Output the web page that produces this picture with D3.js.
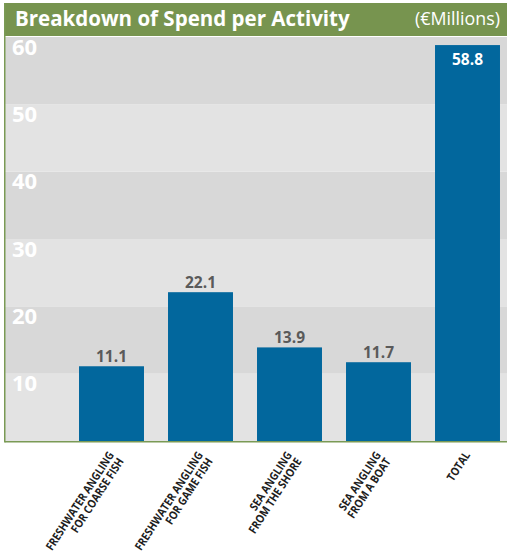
<!DOCTYPE html>
<html>
<head>
<meta charset="utf-8">
<script src="https://cdn.jsdelivr.net/npm/d3@7"></script>
<style>
  html, body { margin: 0; padding: 0; background: #ffffff; }
  svg { display: block; font-family: "Open Sans", "Noto Sans", sans-serif; }
</style>
</head>
<body>
<svg id="chart" width="507" height="555"></svg>
<script>
const title = "Breakdown of Spend per Activity";
const unitLabel = "(€Millions)";
const categories = [
  ["FRESHWATER ANGLING", "FOR COARSE FISH"],
  ["FRESHWATER ANGLING", "FOR GAME FISH"],
  ["SEA ANGLING", "FROM THE SHORE"],
  ["SEA ANGLING", "FROM A BOAT"],
  ["TOTAL"]
];
const values = [11.1, 22.1, 13.9, 11.7, 58.8];
const valueLabels = ["11.1", "22.1", "13.9", "11.7", "58.8"];
const tickValues = [10, 20, 30, 40, 50, 60];

const svg = d3.select("#chart");
const W = 507;
const plotLeft = 5, plotBottom = 441, plotTop = 37;

const x = d3.scaleBand()
  .domain(d3.range(values.length))
  .range([67, 512])
  .paddingInner(0.27)
  .paddingOuter(0.135);

const y = d3.scaleLinear().domain([0, 60]).range([plotBottom, plotTop]);

// alternating bands
const bandEdges = [0].concat(tickValues);
svg.append("g").selectAll("rect")
  .data(d3.range(bandEdges.length - 1))
  .join("rect")
  .attr("x", plotLeft)
  .attr("width", W - plotLeft)
  .attr("y", i => y(bandEdges[i + 1]))
  .attr("height", i => y(bandEdges[i]) - y(bandEdges[i + 1]))
  .attr("fill", i => i % 2 === 0 ? "#e3e3e3" : "#d8d8d8");

// tick labels (white, inside bands)
svg.append("g").selectAll("text")
  .data(tickValues)
  .join("text")
  .attr("x", 12)
  .attr("y", d => y(d) + 17.5)
  .attr("fill", "#ffffff")
  .attr("font-weight", 700)
  .attr("font-size", 22)
  .text(d => d);

// header
svg.append("rect")
  .attr("x", plotLeft).attr("y", 3)
  .attr("width", W - plotLeft).attr("height", 33)
  .attr("fill", "#77944f");

const t = svg.append("text")
  .attr("x", 15).attr("y", 25.5)
  .attr("fill", "#ffffff")
  .attr("font-weight", 700)
  .attr("font-size", 20)
  .text(title);
const tl = t.node().getComputedTextLength();
t.attr("font-size", 20 * 335 / tl);

const u = svg.append("text")
  .attr("x", 500).attr("y", 25)
  .attr("text-anchor", "end")
  .attr("fill", "#ffffff")
  .attr("font-size", 15)
  .text(unitLabel);
const ul = u.node().getComputedTextLength();
u.attr("font-size", 15 * 85 / ul);

// bars
svg.append("g").selectAll("rect")
  .data(values)
  .join("rect")
  .attr("x", (d, i) => x(i))
  .attr("width", x.bandwidth())
  .attr("y", d => y(d))
  .attr("height", d => y(0) - y(d))
  .attr("fill", "#02679d");

// value labels
svg.append("g").selectAll("text")
  .data(values)
  .join("text")
  .attr("x", (d, i) => x(i) + x.bandwidth() / 2)
  .attr("y", (d, i) => d > 50 ? y(d) + 20 : y(d) - 4.5)
  .attr("text-anchor", "middle")
  .attr("fill", d => d > 50 ? "#ffffff" : "#5a5a5a")
  .attr("font-weight", 700)
  .attr("font-size", 15.5)
  .text((d, i) => valueLabels[i]);

// axes lines (green)
svg.append("line")
  .attr("x1", plotLeft).attr("x2", W)
  .attr("y1", plotBottom + 0.75).attr("y2", plotBottom + 0.75)
  .attr("stroke", "#7a9a55").attr("stroke-width", 1.5);
svg.append("line")
  .attr("x1", plotLeft - 0.25).attr("x2", plotLeft - 0.25)
  .attr("y1", 3).attr("y2", plotBottom + 1.5)
  .attr("stroke", "#7a9a55").attr("stroke-width", 1.5);

// category labels, rotated and horizontally condensed
const labFont = 11.5;
const lab = svg.append("g").selectAll("text")
  .data(categories)
  .join("text")
  .attr("text-anchor", "end")
  .attr("fill", "#1e1e1e")
  .attr("font-weight", 700)
  .attr("font-size", labFont);
lab.selectAll("tspan")
  .data(d => d)
  .join("tspan")
  .attr("x", 0)
  .attr("dy", (d, j) => j === 0 ? 0 : 11.5)
  .text(d => d);
const firstLen = lab.nodes()[0].querySelector("tspan").getComputedTextLength();
const sx = 115 / firstLen;
lab.attr("transform", (d, i) =>
  `translate(${x(i) + x.bandwidth() / 2 + 3},${plotBottom + 14}) rotate(-57) scale(${sx},1)`);
</script>
</body>
</html>
